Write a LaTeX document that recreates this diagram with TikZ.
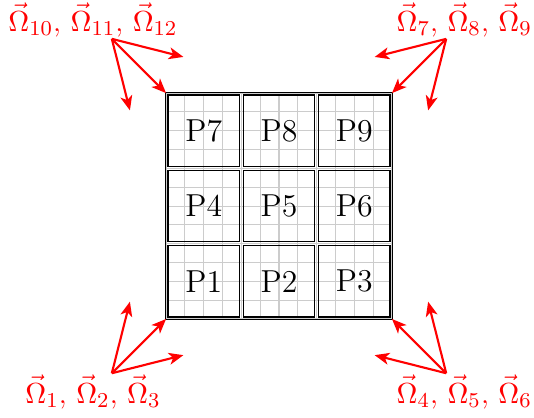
\documentclass[tikz,border=0pt]{standalone}
\usetikzlibrary{arrows.meta}
\begin{document}
\begin{tikzpicture}[
  patch/.style={draw=black, line width=0.5pt, minimum size=0.945cm, inner sep=0pt, font=\large},
  domainbox/.style={draw=black, line width=0.5pt, minimum size=3.02cm, inner sep=0pt},
  finegrid/.style={gray!40, line width=0.4pt},
  dirarrow/.style={red, line width=0.8pt, -{Stealth[length=5.5pt,width=4.5pt,inset=1.5pt]}},
  dirlabel/.style={red, font=\fontsize{11}{13}\selectfont, inner sep=0pt}
]
\useasboundingbox (-3.705,-2.802) rectangle (3.386,2.736);
\draw[finegrid] (-1.5,-1.5) grid[step=0.25] (1.5,1.5);
\node[domainbox] (dom) at (0,0) {};
\node[patch] (p1) at (-1,-1) {P1};
\node[patch] (p2) at (0,-1) {P2};
\node[patch] (p3) at (1,-1) {P3};
\node[patch] (p4) at (-1,0) {P4};
\node[patch] (p5) at (0,0) {P5};
\node[patch] (p6) at (1,0) {P6};
\node[patch] (p7) at (-1,1) {P7};
\node[patch] (p8) at (0,1) {P8};
\node[patch] (p9) at (1,1) {P9};
% origins
\coordinate (otl) at (-2.22,2.22);
\coordinate (otr) at (2.22,2.22);
\coordinate (obl) at (-2.22,-2.22);
\coordinate (obr) at (2.22,-2.22);
% tips
\coordinate (tl1) at (-1.27,1.98);
\coordinate (tl2) at (-1.5,1.5);
\coordinate (tl3) at (-1.98,1.27);
\coordinate (tr1) at (1.27,1.98);
\coordinate (tr2) at (1.5,1.5);
\coordinate (tr3) at (1.98,1.27);
\coordinate (bl1) at (-1.27,-1.98);
\coordinate (bl2) at (-1.5,-1.5);
\coordinate (bl3) at (-1.98,-1.27);
\coordinate (br1) at (1.27,-1.98);
\coordinate (br2) at (1.5,-1.5);
\coordinate (br3) at (1.98,-1.27);
\foreach \c in {tl,tr,bl,br}{
  \foreach \i in {1,2,3}{
    \draw[dirarrow] (o\c) -- (\c\i);
  }
}
\node[dirlabel] (ltl) at (-2.47,2.47) {$\vec{\Omega}_{10}$, $\vec{\Omega}_{11}$, $\vec{\Omega}_{12}$};
\node[dirlabel] (ltr) at (2.46,2.47) {$\vec{\Omega}_{7}$, $\vec{\Omega}_{8}$, $\vec{\Omega}_{9}$};
\node[dirlabel] (lbl) at (-2.47,-2.47) {$\vec{\Omega}_{1}$, $\vec{\Omega}_{2}$, $\vec{\Omega}_{3}$};
\node[dirlabel] (lbr) at (2.46,-2.47) {$\vec{\Omega}_{4}$, $\vec{\Omega}_{5}$, $\vec{\Omega}_{6}$};
\end{tikzpicture}
\end{document}
